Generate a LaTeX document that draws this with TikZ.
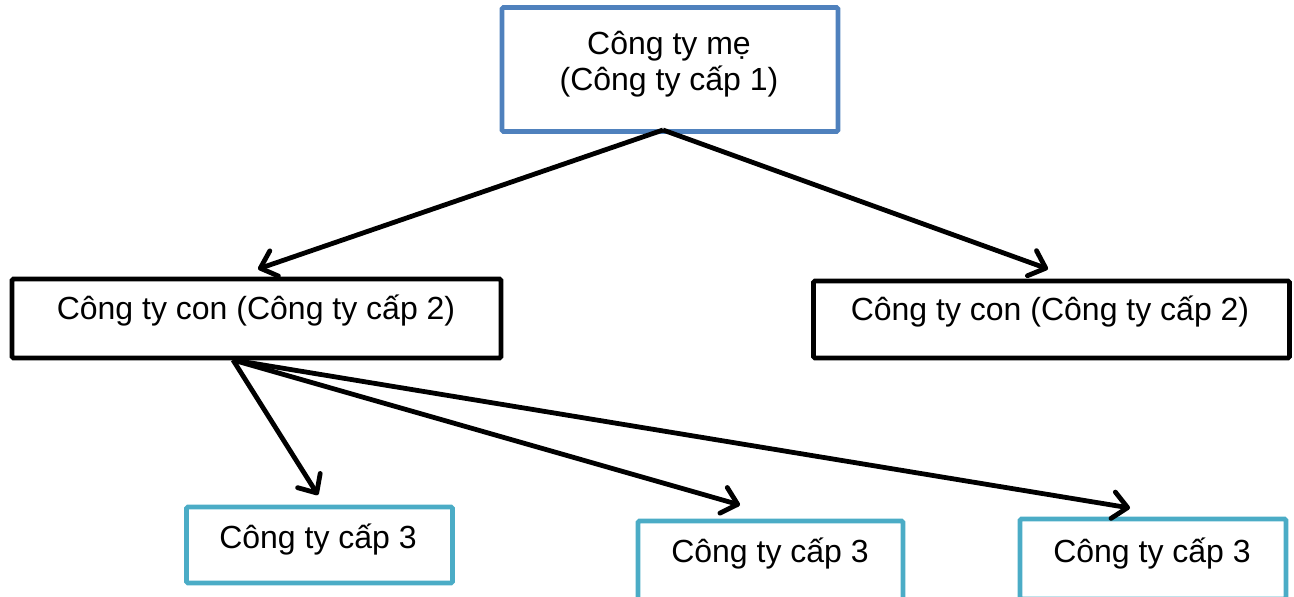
\documentclass[tikz,border=0pt]{standalone}
\usepackage{fontspec}
\setmainfont{Liberation Sans}
\usetikzlibrary{arrows.meta}
\definecolor{topblue}{HTML}{4F81BD}
\definecolor{teal3}{HTML}{4BACC6}
\begin{document}
\begin{tikzpicture}[x=0.75pt,y=-0.75pt,
  box/.style={draw,line width=3.5pt,rounded corners=1pt,inner sep=0pt},
  lbl/.style={font=\fontsize{24}{27}\selectfont,align=center,inner sep=0pt},
  link/.style={line width=3.6pt,-{Straight Barb[length=11pt,width=20pt,line width=3.6pt,round]}}]
\useasboundingbox (0,0) rectangle (1294,596);
% company boxes
\node[box,draw=topblue,minimum width=336*0.75pt,minimum height=124*0.75pt] (mother) at (670,69.5) {};
\node[box,minimum width=489*0.75pt,minimum height=79*0.75pt] (subA) at (256.5,318.5) {};
\node[box,minimum width=476*0.75pt,minimum height=77*0.75pt] (subB) at (1051.5,319.5) {};
\node[box,draw=teal3,minimum width=266*0.75pt,minimum height=76*0.75pt] (lvA) at (319.5,545) {};
\node[box,draw=teal3,minimum width=265*0.75pt,minimum height=80*0.75pt] (lvB) at (770.5,561) {};
\node[box,draw=teal3,minimum width=266*0.75pt,minimum height=80*0.75pt] (lvC) at (1153,559) {};
% labels
\node[lbl] (tmother) at (669,64) {Công ty mẹ\\(Công ty cấp 1)};
\node[lbl] (tsubA) at (256,311) {Công ty con (Công ty cấp 2)};
\node[lbl] (tsubB) at (1050,312) {Công ty con (Công ty cấp 2)};
\node[lbl] (tlvA) at (318,540) {Công ty cấp 3};
\node[lbl] (tlvB) at (770,554) {Công ty cấp 3};
\node[lbl] (tlvC) at (1152,554) {Công ty cấp 3};
% connector ends
\coordinate (mo) at (663,130);
\coordinate (sa) at (233,360);
\coordinate (ea) at (258,269);
\coordinate (eb) at (1048,269);
\coordinate (e1) at (318,495);
\coordinate (e2) at (740,505);
\coordinate (e3) at (1130,508);
\draw[link] (mo) -- (ea);
\draw[link] (mo) -- (eb);
\draw[link] (sa) -- (e1);
\draw[link] (sa) -- (e2);
\draw[link] (sa) -- (e3);
\end{tikzpicture}
\end{document}
